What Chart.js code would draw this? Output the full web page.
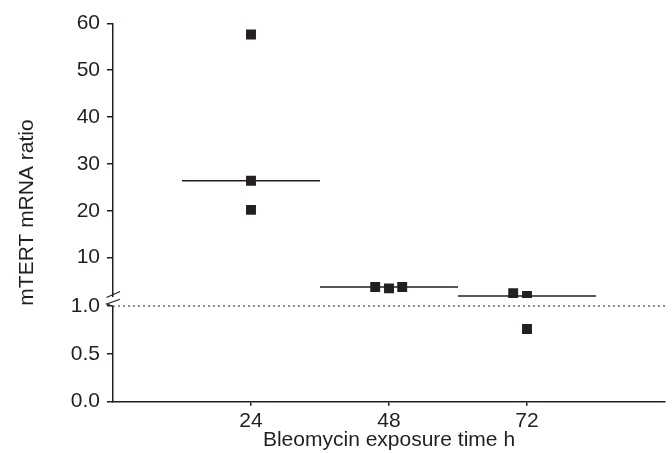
<!DOCTYPE html>
<html><head><meta charset="utf-8">
<script src="https://cdn.jsdelivr.net/npm/chart.js@4"></script>
<style>html,body{margin:0;padding:0;background:#fff}</style>
</head><body>
<canvas id="c" width="672" height="453"></canvas>
<script>
// ---- data ----
const categories = [24, 48, 72];
const tickLabelsX = ['24', '48', '72'];
const values24 = [57.6, 26.4, 20.2];
const values48 = [3.75, 3.45, 3.75];
const values72 = [2.4, 1.85, 0.76];
const offsets24 = [0, 0, 0];
const offsets48 = [-2.4, 0, 2.3];
const offsets72 = [-2.4, 0, 0];
const upperTicks = [10, 20, 30, 40, 50, 60];
const lowerTicks = [0, 0.5, 1.0];
const refLine = 1.0;
const xTitle = 'Bleomycin exposure time h';
const yTitle = 'mTERT mRNA ratio';

// ---- styling / layout ----
const DARK = '#231f20';
const FONT = {family: '"Liberation Sans", Arial, sans-serif', size: 21};
const medianHalf = 12;
const upperMin = 1.4, upperMax = 60, lowerMin = 0, lowerMax = 1.0836;

const groups = [values24, values48, values72];
const offs = [offsets24, offsets48, offsets72];
const hiPts = [], loPts = [], medianSets = [];
groups.forEach((vals, gi) => {
  vals.forEach((v, i) => {
    const p = {x: categories[gi] + offs[gi][i], y: v};
    (v > lowerMax ? hiPts : loPts).push(p);
  });
  const s = [...vals].sort((a, b) => a - b);
  const med = s[Math.floor(s.length / 2)];
  medianSets.push({
    type: 'line', yAxisID: 'yHi', xAxisID: 'x',
    data: [{x: categories[gi] - medianHalf, y: med}, {x: categories[gi] + medianHalf, y: med}],
    borderColor: DARK, borderWidth: 1.5, pointRadius: 0, fill: false
  });
});

const decor = {
  id: 'decor',
  afterDraw(chart) {
    const ctx = chart.ctx, ca = chart.chartArea;
    const ax = chart.scales.x.left;
    ctx.save();
    // axis break
    ctx.fillStyle = '#fff';
    ctx.fillRect(ax - 3, 297, 6, 8.5);
    ctx.strokeStyle = DARK; ctx.lineWidth = 1.2;
    ctx.beginPath();
    ctx.moveTo(106.5, 297.5); ctx.lineTo(120, 291.5);
    ctx.moveTo(120, 299.3); ctx.lineTo(106.7, 304); ctx.lineTo(ax, 306.3);
    ctx.stroke();
    // y title
    ctx.fillStyle = DARK;
    ctx.font = FONT.size + 'px ' + FONT.family;
    ctx.translate(33, (ca.top + ca.bottom) / 2);
    ctx.rotate(-Math.PI / 2);
    ctx.textAlign = 'center'; ctx.textBaseline = 'alphabetic';
    ctx.fillText(yTitle, 0, 0);
    ctx.restore();
  }
};

const yCommon = {
  type: 'linear', position: 'left', stack: 'y',
  ticks: {font: FONT, color: DARK, padding: 7},
  grid: {display: true, drawOnChartArea: false, drawTicks: true, tickLength: 6, color: DARK, lineWidth: 1.5},
  border: {display: true, color: DARK, width: 1.5},
  afterFit: s => { s.width = 113; }
};

new Chart(document.getElementById('c'), {
  type: 'scatter',
  data: {
    datasets: [
      {data: [{x: 0, y: refLine}, {x: 96, y: refLine}], type: 'line', yAxisID: 'yLo', xAxisID: 'x',
       borderColor: DARK, borderWidth: 1.2, borderDash: [2, 3], pointRadius: 0, fill: false},
      ...medianSets,
      {data: hiPts, yAxisID: 'yHi', xAxisID: 'x', pointStyle: 'rect', pointRadius: 7,
       backgroundColor: DARK, borderColor: DARK, borderWidth: 0},
      {data: loPts, yAxisID: 'yLo', xAxisID: 'x', pointStyle: 'rect', pointRadius: 7,
       backgroundColor: DARK, borderColor: DARK, borderWidth: 0}
    ]
  },
  options: {
    responsive: false, animation: false, devicePixelRatio: 1,
    layout: {padding: {left: 0, right: 5, top: 23.3, bottom: 0}},
    plugins: {legend: {display: false}, tooltip: {enabled: false}},
    scales: {
      x: {
        type: 'linear', min: 0, max: 96,
        afterBuildTicks: s => { s.ticks = categories.map(v => ({value: v})); },
        ticks: {font: FONT, color: DARK, padding: 3, maxRotation: 0, autoSkip: false,
                callback: v => tickLabelsX[categories.indexOf(v)]},
        grid: {display: true, drawOnChartArea: false, drawTicks: true, tickLength: 4, color: DARK, lineWidth: 1.5},
        border: {display: true, color: DARK, width: 1.5},
        title: {display: true, text: xTitle, font: FONT, color: DARK, padding: 0},
        afterFit: s => { s.height = 51.3; }
      },
      yHi: Object.assign({}, yCommon, {
        min: upperMin, max: upperMax, stackWeight: 274.7, weight: 1,
        afterBuildTicks: s => { s.ticks = upperTicks.map(v => ({value: v})); },
        ticks: Object.assign({}, yCommon.ticks, {callback: v => String(v)})
      }),
      yLo: Object.assign({}, yCommon, {
        min: lowerMin, max: lowerMax, stackWeight: 103.7, weight: 0,
        afterBuildTicks: s => { s.ticks = lowerTicks.map(v => ({value: v})); },
        ticks: Object.assign({}, yCommon.ticks, {callback: v => Number(v).toFixed(1)})
      })
    }
  },
  plugins: [decor]
});
</script>
</body></html>
